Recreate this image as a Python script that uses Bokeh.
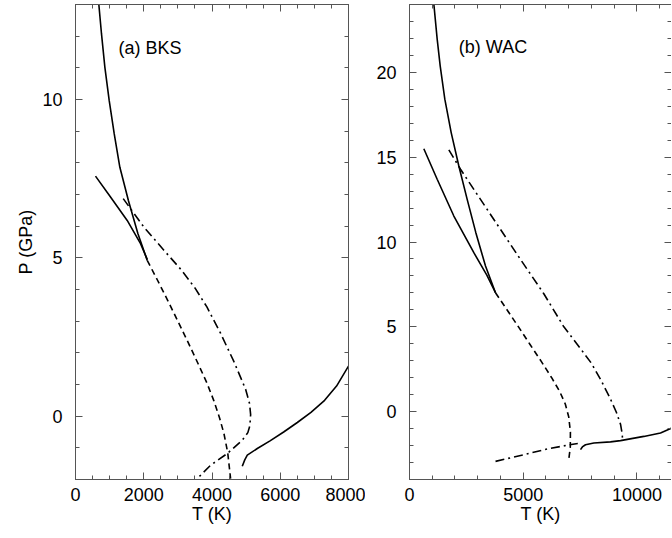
from bokeh.plotting import figure
from bokeh.models import LinearAxis, SingleIntervalTicker, Label, Range1d
from bokeh.layouts import row
from bokeh.embed import file_html
from bokeh.resources import INLINE

# ---------------- panel (a) BKS ----------------
a_melt_T = [684, 762, 860, 987, 1134, 1300, 1550, 1830, 2102]
a_melt_P = [13.0, 12.07, 11.02, 9.97, 8.92, 7.86, 6.81, 5.76, 4.92]
a_line2_T = [586, 1026, 1515, 1906, 2102]
a_line2_P = [7.58, 6.92, 6.18, 5.45, 4.95]
a_dash_T = [2102, 2400, 2700, 3000, 3300, 3600, 3850, 4050, 4220, 4350, 4460, 4545]
a_dash_P = [4.92, 4.30, 3.66, 3.00, 2.33, 1.64, 1.05, 0.50, -0.05, -0.55, -1.15, -1.97]
a_dd_T = [1398, 2004, 2590, 3100, 3500, 3850, 4250, 4643, 4985, 5100, 5132, 5110, 5050, 4887, 4448, 3959, 3568]
a_dd_P = [6.87, 5.97, 5.24, 4.62, 4.05, 3.45, 2.62, 1.72, 0.85, 0.40, 0.05, -0.30, -0.52, -0.76, -1.18, -1.55, -1.97]
a_low_T = [4887, 4960, 5034, 5328, 5700, 6100, 6500, 6900, 7300, 7650, 8000]
a_low_P = [-1.58, -1.38, -1.23, -1.02, -0.78, -0.50, -0.20, 0.12, 0.50, 0.95, 1.58]

# ---------------- panel (b) WAC ----------------
b_melt_T = [1070, 1217, 1349, 1553, 1833, 2169, 2536, 2917, 3342, 3781]
b_melt_P = [24.03, 21.96, 20.38, 18.42, 16.45, 14.48, 12.51, 10.55, 8.58, 7.01]
b_line2_T = [630, 1217, 1950, 2829, 3400, 3781]
b_line2_P = [15.5, 13.7, 11.53, 9.37, 8.05, 7.01]
b_dash_T = [3781, 4300, 4800, 5300, 5800, 6250, 6600, 6850, 7000, 7075, 7070, 7000]
b_dash_P = [7.01, 5.98, 4.98, 3.96, 2.95, 2.0, 1.2, 0.45, -0.3, -1.2, -2.1, -2.85]
b_dd_T = [1730, 2243, 3122, 4001, 4881, 5906, 6786, 7500, 8000, 8400, 8800, 9100, 9280, 9350, 9370]
b_dd_P = [15.43, 14.29, 12.51, 10.74, 8.97, 6.95, 5.0, 3.75, 2.85, 1.9, 0.85, -0.05, -0.75, -1.3, -1.65]
b_dd2_T = [3782, 5027, 6054, 6933, 7400]
b_dd2_P = [-2.93, -2.54, -2.2, -1.98, -1.88]
b_low_T = [7519, 7600, 7739, 8106, 8838, 9278, 10304, 11037, 11552, 11700]
b_low_P = [-2.24, -2.08, -1.95, -1.85, -1.78, -1.71, -1.46, -1.26, -0.96, -0.88]

FONT = "Liberation Sans"
AXC = "#555555"
DASH = "6 4"
DASHDOT = "9 4 2 4"
LW = 1.6


def style(ax, labels=True):
    ax.axis_line_color = AXC
    ax.axis_line_width = 1
    ax.major_tick_line_color = AXC
    ax.minor_tick_line_color = AXC
    ax.major_tick_line_width = 1
    ax.minor_tick_line_width = 1
    ax.major_tick_in = 7
    ax.major_tick_out = 0
    ax.minor_tick_in = 4
    ax.minor_tick_out = 0
    ax.major_label_text_font = FONT
    ax.major_label_text_color = "black"
    ax.axis_label_text_font = FONT
    ax.axis_label_text_font_style = "normal"
    ax.axis_label_text_font_size = "18px"
    ax.axis_label_text_color = "black"
    if labels:
        ax.major_label_text_font_size = "18px"
    else:
        ax.major_label_text_font_size = "1px"
        ax.major_label_text_alpha = 0
        ax.major_label_standoff = 0


def make(xr, yr, xint, xminor, yint, yminor, width, mbl, mbr, ylabel, outline=True):
    p = figure(width=width, height=534, x_range=Range1d(*xr), y_range=Range1d(*yr),
               output_backend="svg", toolbar_location=None,
               min_border_left=mbl, min_border_right=mbr, min_border_top=4,
               min_border_bottom=55, x_axis_location=None, y_axis_location=None)
    p.outline_line_color = AXC if outline else None
    p.outline_line_width = 1
    p.xgrid.visible = False
    p.ygrid.visible = False
    p.background_fill_color = "white"
    p.border_fill_color = "white"
    xb = LinearAxis(ticker=SingleIntervalTicker(interval=xint, num_minor_ticks=xminor),
                    axis_label="T (K)")
    style(xb)
    xb.major_label_standoff = 8
    xb.axis_label_standoff = 0
    p.add_layout(xb, "below")
    xt = LinearAxis(ticker=SingleIntervalTicker(interval=xint, num_minor_ticks=xminor))
    style(xt, labels=False)
    p.add_layout(xt, "above")
    yl = LinearAxis(ticker=SingleIntervalTicker(interval=yint, num_minor_ticks=yminor),
                    axis_label=ylabel)
    style(yl)
    yl.major_label_standoff = 13
    yl.axis_label_standoff = 3
    p.add_layout(yl, "left")
    yr_ax = LinearAxis(ticker=SingleIntervalTicker(interval=yint, num_minor_ticks=yminor))
    style(yr_ax, labels=False)
    p.add_layout(yr_ax, "right")
    return p, yr_ax


pa, _ = make((0, 8000), (-2, 13), 2000, 4, 5, 5, 365, 75, 17, "P (GPa)")
pa.line(a_melt_T, a_melt_P, color="black", line_width=LW)
pa.line(a_line2_T, a_line2_P, color="black", line_width=LW)
pa.line(a_dash_T, a_dash_P, color="black", line_width=LW, line_dash=DASH)
pa.line(a_dd_T, a_dd_P, color="black", line_width=LW, line_dash=DASHDOT)
pa.line(a_low_T, a_low_P, color="black", line_width=LW)
pa.add_layout(Label(x=1261, y=11.64, text="(a) BKS", text_baseline="middle",
                    text_font=FONT, text_font_size="18px", text_color="black"))

pb, pb_right = make((0, 11520), (-4, 24), 5000, 5, 5, 5, 306, 44, 0, "", outline=False)
pb_right.axis_line_alpha = 0
pb.line(b_melt_T, b_melt_P, color="black", line_width=LW)
pb.line(b_line2_T, b_line2_P, color="black", line_width=LW)
pb.line(b_dash_T, b_dash_P, color="black", line_width=LW, line_dash=DASH)
pb.line(b_dd_T, b_dd_P, color="black", line_width=LW, line_dash=DASHDOT)
pb.line(b_dd2_T, b_dd2_P, color="black", line_width=LW, line_dash=DASHDOT)
pb.line(b_low_T, b_low_P, color="black", line_width=LW)
pb.add_layout(Label(x=2168, y=21.5, text="(b) WAC", text_baseline="middle",
                    text_font=FONT, text_font_size="18px", text_color="black"))

layout = row(pa, pb, spacing=0)
open("out.html", "w").write(file_html(layout, INLINE))
